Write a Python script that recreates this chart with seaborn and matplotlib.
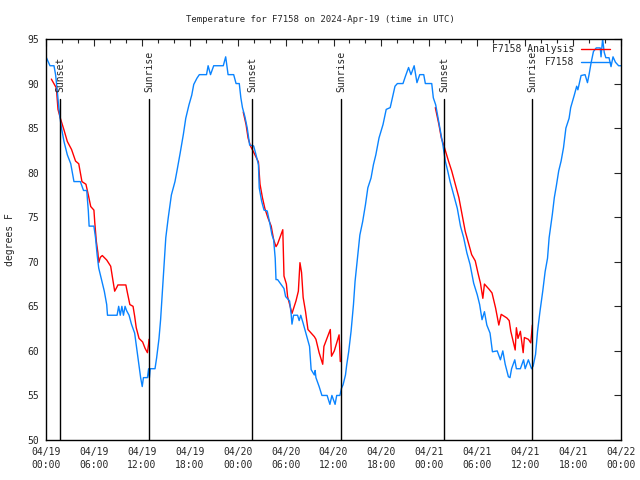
import numpy as np
import pandas as pd
import matplotlib
matplotlib.use("Agg")
import matplotlib.pyplot as plt
import matplotlib.dates as mdates
import seaborn as sns

# start of the chart (UTC)
start = pd.Timestamp("2024-04-19 00:00")

# observed temperature (hours after start, degrees F)
obs_hours = [0.0, 0.5, 1.0, 1.2, 1.4, 1.6, 1.9, 2.25, 2.67, 3.1, 3.5, 4.3, 4.7, 5.1, 5.3, 5.4,
             6.0, 6.2, 6.4, 6.6, 6.9, 7.3, 7.6, 7.7, 8.9, 9.1, 9.3, 9.5, 9.7, 9.9, 10.1, 10.4,
             10.7, 11.1, 11.4, 11.6, 11.85, 12.05, 12.2, 12.7, 12.85, 12.95, 13.05, 13.65, 13.85,
             14.15, 14.35, 14.5, 14.8, 15.0, 15.3, 15.7, 16.15, 16.4, 16.8, 17.2, 17.5, 17.9,
             18.25, 18.5, 18.9, 19.2, 20.1, 20.3, 20.6, 21.0, 22.2, 22.5, 22.8, 23.5, 23.8, 24.2,
             24.4, 24.6, 24.9, 25.2, 25.5, 26.0, 26.3, 26.6, 26.7, 27.0, 27.3, 27.7, 28.05, 28.3,
             28.5, 28.7, 28.8, 29.0, 29.8, 30.0, 30.5, 30.7, 30.8, 31.0, 31.5, 31.7, 31.9, 32.2,
             32.6, 33.0, 33.2, 33.6, 33.7, 33.8, 34.2, 34.55, 35.2, 35.55, 35.8, 36.2, 36.4, 36.8,
             37.0, 37.2, 37.5, 37.65, 37.9, 38.2, 38.5, 38.7, 39.0, 39.3, 39.65, 40.0, 40.3, 40.7,
             41.0, 41.3, 41.7, 42.2, 42.6, 43.1, 43.5, 43.7, 44.0, 44.7, 45.0, 45.4, 45.7, 46.1,
             46.45, 46.8, 47.3, 47.5, 48.3, 48.5, 48.8, 49.1, 49.4, 49.7, 50.0, 50.3, 50.6, 51.05,
             51.5, 51.9, 52.3, 52.7, 53.1, 53.55, 54.0, 54.3, 54.6, 54.9, 55.2, 55.6, 55.9, 56.5,
             56.9, 57.2, 57.5, 57.9, 58.1, 58.3, 58.7, 58.9, 59.4, 59.8, 60.0, 60.4, 60.8, 61.0,
             61.3, 61.55, 61.85, 62.2, 62.5, 62.8, 63.0, 63.4, 63.65, 63.9, 64.2, 64.5, 64.8, 65.1,
             65.5, 65.7, 66.15, 66.45, 66.6, 67.0, 67.5, 67.8, 68.0, 68.25, 68.55, 68.9, 69.4,
             69.5, 69.7, 69.9, 70.1, 70.5, 70.75, 71.0, 71.3, 71.7, 72.0]
obs_temps = [93, 92, 92, 91, 89.3, 87.3, 85.2, 83.5, 82, 81, 79, 79, 78, 78, 75.7, 74,
             74, 72.7, 70.8, 69.3, 68.2, 66.7, 65.2, 64, 64, 65, 64, 65, 64, 65, 64.5, 64,
             63, 62, 60, 58.6, 57, 56, 57, 57, 58, 57, 58, 58, 59.2,
             61.4, 63.5, 65.6, 69.7, 72.7, 74.9, 77.5, 79, 80.2, 82.2, 84.3, 86.1, 87.6,
             88.7, 89.9, 90.6, 91, 91, 92, 91, 92, 92, 93, 91, 91, 90, 90,
             88.4, 87.3, 86.3, 85, 83.1, 83, 82, 80.9, 78.3, 76.8, 75.8, 75.7, 74.2, 73,
             72.5, 70.4, 68, 68, 67, 66.1, 65.6, 64.1, 63, 64, 64, 63.4, 64, 63.1,
             61.8, 60.5, 57.9, 57.3, 57.8, 57, 56, 55, 55, 54, 55, 54, 55, 55,
             55.8, 56.2, 57.3, 58.4, 59.9, 62.2, 65.2, 67.8, 70.4, 73, 74.5, 76.4, 78.3, 79.4,
             80.9, 82, 83.9, 85.4, 87.1, 87.3, 88.9, 89.7, 90, 90, 90.8, 91.8, 91, 92,
             90.1, 91, 91, 90, 90, 88.4, 87.6, 86.1, 84.6, 83.1, 81.3, 80.2, 79, 77.5,
             76, 74, 72.7, 71, 69.7, 67.6, 66.3, 65.2, 63.5, 64.4, 62.9, 62, 59.9, 60,
             59, 60, 58.5, 57.1, 57, 58, 59, 58, 58, 59, 58, 59, 58, 58.3,
             59.6, 62.2, 64.4, 66.7, 68.9, 70.4, 72.7, 75.3, 77.2, 78.5, 80.2, 81.3, 82.8, 85,
             86.1, 87.3, 88.7, 89.7, 89.3, 90.9, 91, 90.1, 91, 92.3, 93.6, 94, 94,
             93, 95, 93.5, 92.9, 92.9, 91.9, 93, 92.4, 92, 92]

# analysis, one segment per night
ana_hours_1 = [0.67, 1.3, 1.5, 1.8, 2.25, 2.67, 3.2, 3.7, 4.1, 4.5, 5.0, 5.3, 5.6, 6.0, 6.1,
               6.3, 6.5, 6.6, 6.8, 7.05, 7.6, 8.1, 8.4, 8.6, 8.9, 9.0, 10.0, 10.2, 10.5, 10.9,
               11.1, 11.3, 11.65, 12.1, 12.4, 12.7, 12.85, 12.9]
ana_temps_1 = [90.5, 89.5, 87.1, 86.1, 84.8, 83.5, 82.6, 81.3, 81, 79, 78.7, 77.5, 76.2, 75.8, 74.5,
               72.3, 71, 69.9, 70.5, 70.7, 70.2, 69.5, 67.8, 66.7, 67.2, 67.4, 67.4, 66.5, 65.2, 65,
               63.9, 62.6, 61.4, 61, 60.3, 59.8, 60.8, 61.3]
ana_hours_2 = [24.7, 25.05, 25.3, 25.6, 26.0, 26.6, 26.8, 27.1, 27.4, 27.8, 28.2, 28.5, 28.8,
               29.0, 29.65, 29.72, 29.8, 30.1, 30.25, 30.8, 31.3, 31.6, 31.8, 32.0, 32.2, 32.5,
               32.8, 33.6, 33.8, 34.2, 34.65, 34.8, 35.6, 35.75, 36.1, 36.7, 36.85]
ana_temps_2 = [86.8, 85.4, 83.9, 83, 82.3, 81.2, 78.7, 77.2, 76, 74.9, 74, 72.5, 71.7,
               72, 73.6, 71.2, 68.4, 67.5, 66.1, 64.2, 65.6, 66.7, 69.9, 68.8, 66.0, 64.4,
               62.4, 61.6, 61.3, 59.8, 58.5, 60.5, 62.4, 59.4, 60, 61.8, 58.8]
ana_hours_3 = [48.75, 49.2, 49.5, 49.9, 50.4, 50.8, 51.25, 51.7, 52.1, 52.5, 52.9, 53.3, 53.75,
               54.1, 54.4, 54.7, 54.9, 55.5, 55.85, 56.3, 56.7, 57.0, 57.7, 58.0, 58.2, 58.75,
               58.9, 59.1, 59.4, 59.75, 59.9, 60.4, 60.7, 60.9]
ana_temps_3 = [87.3, 85.4, 83.9, 82.8, 81.3, 80.2, 78.7, 77.2, 75.3, 73.4, 72.1, 70.8, 70.1,
               68.7, 67.6, 65.9, 67.5, 66.9, 66.5, 64.8, 62.9, 64.1, 63.7, 63.4, 62.2, 60.1,
               62.6, 61.4, 62.2, 59.8, 61.5, 61.3, 60.9, 62.9]

# sunset / sunrise markers
event_hours = [1.8, 12.9, 25.83, 36.98, 49.87, 60.89]
event_names = ["Sunset", "Sunrise", "Sunset", "Sunrise", "Sunset", "Sunrise"]


def to_time(hours):
    return start + pd.to_timedelta(hours, unit="h")


obs = pd.DataFrame({"time": to_time(obs_hours), "temp": obs_temps})
nights = [(ana_hours_1, ana_temps_1), (ana_hours_2, ana_temps_2), (ana_hours_3, ana_temps_3)]

sns.set_style("white")
plt.rcParams["font.family"] = ["DejaVu Sans Mono"]
fs = 7

fig = plt.figure(figsize=(6.4, 4.8), dpi=100)
ax = fig.add_axes([46 / 640, 40 / 480, 575 / 640, 401 / 480])

# analysis first so it comes first in the legend
for i, (h, t) in enumerate(nights):
    seg = pd.DataFrame({"time": to_time(h), "temp": t})
    sns.lineplot(data=seg, x="time", y="temp", ax=ax, color="#ff0000", lw=1.0,
                 estimator=None, label="F7158 Analysis" if i == 0 else None)
sns.lineplot(data=obs, x="time", y="temp", ax=ax, color="#0a84ff", lw=1.0,
             estimator=None, label="F7158")

for h, name in zip(event_hours, event_names):
    t = to_time(h)
    ax.plot([t, t], [50, 88.3], color="black", lw=1.0)
    ax.text(t, 89.1, name, rotation=90, ha="center", va="bottom", fontsize=fs)

ax.set_xlim(start, start + pd.Timedelta(hours=72))
ax.set_ylim(50, 95)
ax.set_yticks(np.arange(50, 96, 5))
ax.xaxis.set_major_locator(mdates.HourLocator(byhour=[0, 6, 12, 18]))
ax.xaxis.set_minor_locator(mdates.HourLocator(byhour=range(0, 24, 2)))
ax.xaxis.set_major_formatter(mdates.DateFormatter("%m/%d\n%H:%M"))
ax.tick_params(which="both", direction="in", top=True, right=True, labelsize=fs, width=0.8)
ax.tick_params(which="major", length=5, pad=5)
ax.tick_params(which="minor", length=3)
for lab in ax.get_xticklabels():
    lab.set_linespacing(1.35)
for s in ax.spines.values():
    s.set_color("black")
    s.set_linewidth(1.0)
ax.set_xlabel("")
ax.set_ylabel("")

ax.legend(loc="upper right", bbox_to_anchor=(0.981, 0.987), frameon=False, markerfirst=False,
          handlelength=3.0, handletextpad=0.7, labelspacing=0.3, borderaxespad=0, borderpad=0,
          fontsize=fs)

fig.text(0.5, 1 - 19 / 480, "Temperature for F7158 on 2024-Apr-19 (time in UTC)",
         ha="center", va="center", fontsize=6.5)
fig.text(10 / 640, 0.5, "degrees F", rotation=90, ha="center", va="center", fontsize=fs)

fig.savefig("out.png", dpi=100)
